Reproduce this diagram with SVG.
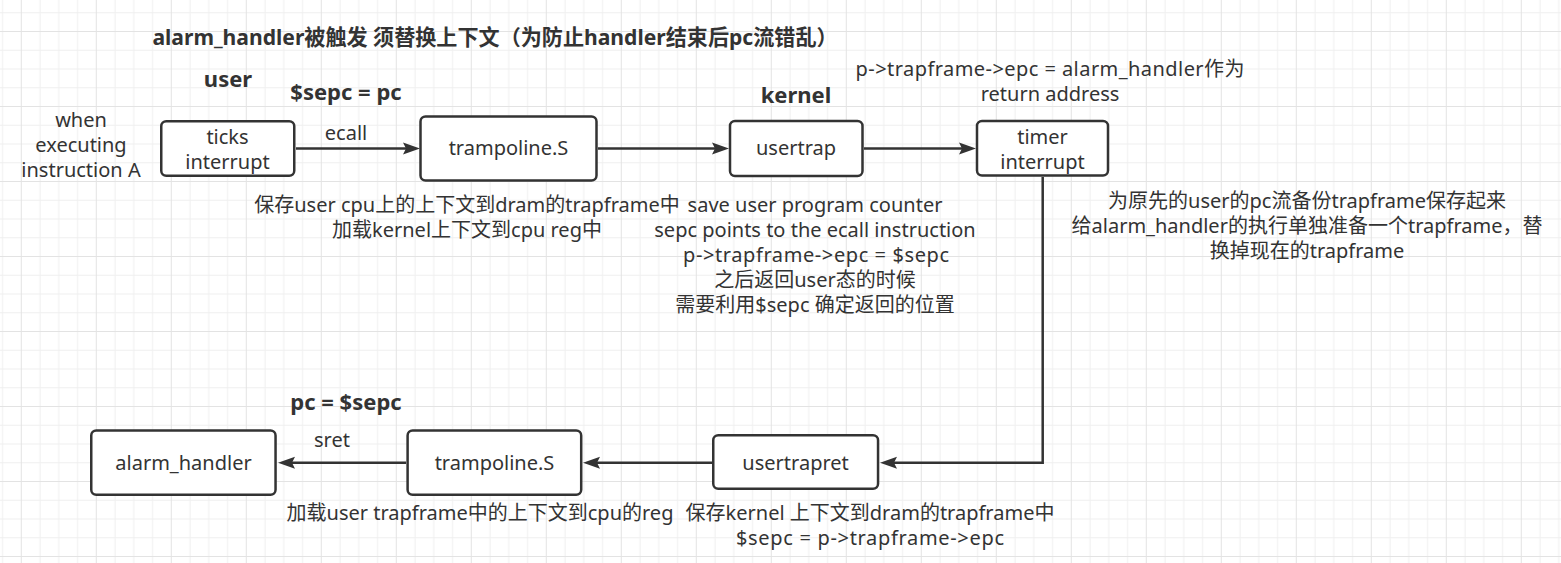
<svg xmlns="http://www.w3.org/2000/svg" width="1561" height="563" viewBox="0 0 1561 563">
<style>
.t{font-family:"Noto Sans","Noto Sans CJK SC",sans-serif;font-size:20px;fill:#333;text-anchor:middle}
.b{font-weight:bold;font-size:22px}
.box{fill:#fff;stroke:#333;stroke-width:2.5}
.edge{fill:none;stroke:#333;stroke-width:2.5}
</style>
<defs>
<pattern id="grid" patternUnits="userSpaceOnUse" x="20.8" y="31" width="75" height="75">
<path d="M19.25 0V75M38 0V75M56.75 0V75M0 19.25H75M0 38H75M0 56.75H75" stroke="#efefef" stroke-width="1" fill="none"/>
<path d="M0.5 0V75M0 0.5H75" stroke="#e3e3e3" stroke-width="1" fill="none"/>
</pattern>
<marker id="arr" markerUnits="userSpaceOnUse" markerWidth="20" markerHeight="14" viewBox="-6 -7 20 14" refX="0" refY="0" orient="auto">
<path d="M12,0 L-5,-6 L-2,0 L-5,6 Z" fill="#333"/>
</marker>
</defs>
<rect width="1561" height="563" fill="#fff"/>
<rect width="1561" height="563" fill="url(#grid)"/>

<g id="labels">
<text class="t" style="font-weight:bold;font-size:21.1px" x="495" y="45">alarm_handler被触发 须替换上下文（为防止handler结束后pc流错乱）</text>
<text class="t b" x="228" y="87">user</text>
<text class="t b" x="346" y="100">$sepc = pc</text>
<text class="t b" x="796" y="103">kernel</text>
<text class="t" x="1050" y="76" textLength="389" lengthAdjust="spacing">p-&gt;trapframe-&gt;epc = alarm_handler作为</text>
<text class="t" x="1050" y="100.5">return address</text>
<text class="t" x="81" y="127">when<tspan x="81" y="152">executing</tspan><tspan x="81" y="177">instruction A</tspan></text>
<text class="t" x="467" y="211.5">保存user cpu上的上下文到dram的trapframe中<tspan x="467" y="236.5">加载kernel上下文到cpu reg中</tspan></text>
<text class="t" x="815" y="211.5">save user program counter<tspan x="815" y="236.5">sepc points to the ecall instruction</tspan></text>
<text class="t" x="816" y="261.5" textLength="266" lengthAdjust="spacing">p-&gt;trapframe-&gt;epc = $sepc</text>
<text class="t" x="815" y="286.5">之后返回user态的时候<tspan x="815" y="311.5">需要利用$sepc 确定返回的位置</tspan></text>
<text class="t" x="1307" y="208">为原先的user的pc流备份trapframe保存起来<tspan x="1307" y="233">给alarm_handler的执行单独准备一个trapframe，替</tspan><tspan x="1307" y="258">换掉现在的trapframe</tspan></text>
<text class="t b" x="346" y="410">pc = $sepc</text>
<text class="t" x="480" y="520">加载user trapframe中的上下文到cpu的reg</text>
<text class="t" x="870" y="520">保存kernel 上下文到dram的trapframe中</text>
<text class="t" x="870" y="545" textLength="268" lengthAdjust="spacing">$sepc = p-&gt;trapframe-&gt;epc</text>
</g>

<g id="connectors">
<path class="edge" d="M296,148.5H408" marker-end="url(#arr)"/>
<text class="t" x="346" y="140">ecall</text>
<path class="edge" d="M598,148.5H717" marker-end="url(#arr)"/>
<path class="edge" d="M864,148.5H964" marker-end="url(#arr)"/>
<path class="edge" d="M1042.7,177V462.7H892" marker-end="url(#arr)"/>
<path class="edge" d="M712,462.7H595" marker-end="url(#arr)"/>
<path class="edge" d="M406,462.7H290" marker-end="url(#arr)"/>
<text class="t" x="332" y="447">sret</text>
</g>

<g id="node-ticks">
<rect class="box" x="161.25" y="121.25" width="133" height="54.5" rx="5"/>
<text class="t" x="227.5" y="143.5">ticks<tspan x="227.5" y="168.5">interrupt</tspan></text>
</g>
<g id="node-trampoline-top">
<rect class="box" x="420.5" y="116.5" width="176" height="64" rx="5"/>
<text class="t" x="508.5" y="155">trampoline.S</text>
</g>
<g id="node-usertrap">
<rect class="box" x="730" y="121" width="132.5" height="55" rx="5"/>
<text class="t" x="796" y="155">usertrap</text>
</g>
<g id="node-timer">
<rect class="box" x="977" y="121" width="131" height="54.5" rx="5"/>
<text class="t" x="1042.5" y="143.5">timer<tspan x="1042.5" y="168.5">interrupt</tspan></text>
</g>
<g id="node-alarm-handler">
<rect class="box" x="91.25" y="430.5" width="184.3" height="64.3" rx="5"/>
<text class="t" x="183.5" y="470">alarm_handler</text>
</g>
<g id="node-trampoline-bottom">
<rect class="box" x="407.6" y="430.5" width="173.6" height="64.3" rx="5"/>
<text class="t" x="494.5" y="470">trampoline.S</text>
</g>
<g id="node-usertrapret">
<rect class="box" x="713.25" y="435.25" width="164.8" height="53.5" rx="5"/>
<text class="t" x="795.6" y="470">usertrapret</text>
</g>
</svg>
